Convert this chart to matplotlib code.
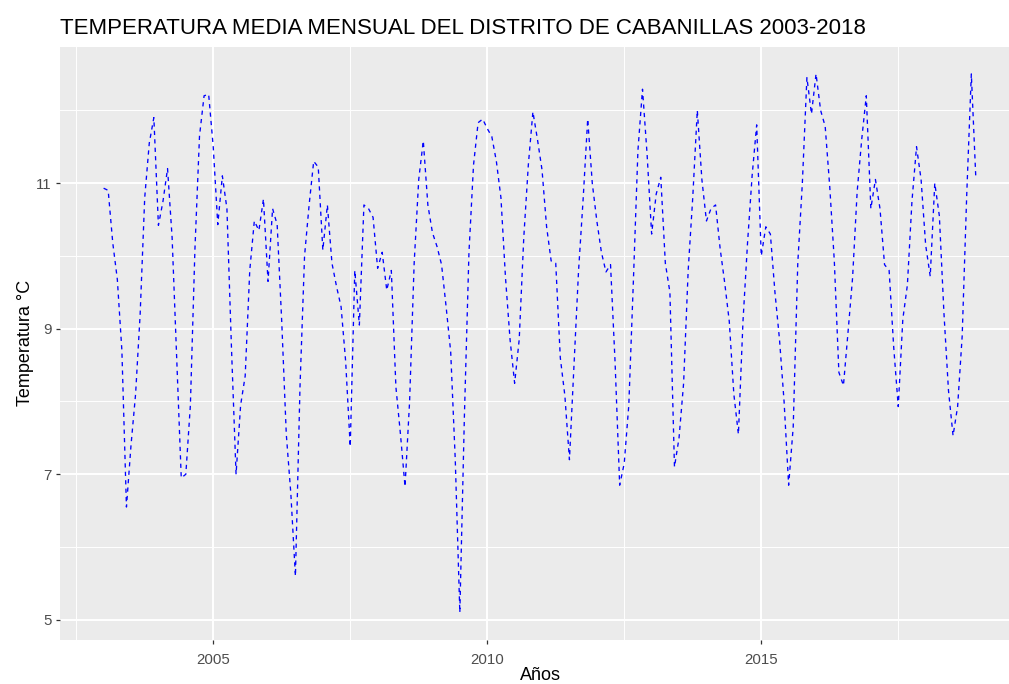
import numpy as np
import matplotlib
matplotlib.use("Agg")
import matplotlib.pyplot as plt
from matplotlib.ticker import MultipleLocator, FixedLocator

# monthly mean temperature, Cabanillas district, Jan 2003 .. Dec 2018
temp_2003 = [10.93, 10.9, 10.18, 9.68, 8.7, 6.55, 7.4, 8.1, 9.2, 10.8, 11.55, 11.9]
temp_2004 = [10.42, 10.75, 11.2, 10.25, 8.6, 6.95, 7.0, 7.95, 10.1, 11.65, 12.2, 12.22]
temp_2005 = [11.5, 10.43, 11.1, 10.65, 8.73, 7.0, 7.95, 8.35, 9.8, 10.48, 10.35, 10.78]
temp_2006 = [9.65, 10.65, 10.43, 9.1, 7.55, 6.73, 5.6, 8.2, 10.0, 10.7, 11.3, 11.22]
temp_2007 = [10.08, 10.7, 9.9, 9.58, 9.3, 8.55, 7.38, 9.8, 9.05, 10.7, 10.65, 10.53]
temp_2008 = [9.83, 10.05, 9.53, 9.8, 8.2, 7.55, 6.83, 8.0, 9.9, 11.05, 11.58, 10.7]
temp_2009 = [10.32, 10.13, 9.88, 9.3, 8.68, 7.2, 5.1, 7.8, 10.05, 11.25, 11.83, 11.88]
temp_2010 = [11.75, 11.64, 11.3, 10.8, 9.7, 8.85, 8.25, 8.85, 10.25, 11.25, 11.98, 11.6]
temp_2011 = [11.18, 10.4, 9.93, 9.9, 8.6, 8.08, 7.2, 8.5, 9.8, 10.78, 11.88, 11.0]
temp_2012 = [10.48, 10.05, 9.78, 9.88, 8.53, 6.85, 7.15, 7.95, 9.65, 11.45, 12.29, 11.4]
temp_2013 = [10.3, 10.85, 11.08, 9.9, 9.5, 7.1, 7.5, 8.25, 9.8, 10.8, 12.0, 11.05]
temp_2014 = [10.48, 10.65, 10.7, 10.1, 9.63, 9.1, 8.1, 7.55, 9.1, 10.18, 11.1, 11.8]
temp_2015 = [10.0, 10.4, 10.3, 9.5, 8.85, 8.0, 6.85, 7.65, 9.9, 11.0, 12.45, 11.95]
temp_2016 = [12.5, 12.0, 11.78, 10.95, 9.93, 8.4, 8.22, 8.95, 9.7, 10.88, 11.6, 12.2]
temp_2017 = [10.65, 11.05, 10.65, 9.88, 9.8, 8.75, 7.93, 9.13, 9.6, 10.75, 11.5, 11.05]
temp_2018 = [10.15, 9.72, 11.0, 10.55, 9.22, 8.15, 7.53, 7.93, 8.9, 10.85, 12.5, 11.05]

temps = (temp_2003 + temp_2004 + temp_2005 + temp_2006 + temp_2007 + temp_2008
         + temp_2009 + temp_2010 + temp_2011 + temp_2012 + temp_2013 + temp_2014
         + temp_2015 + temp_2016 + temp_2017 + temp_2018)
years = 2003 + np.arange(len(temps)) / 12

y_ticks = [5, 7, 9, 11]

plt.rcParams['font.family'] = ['Liberation Sans', 'DejaVu Sans']

fig = plt.figure(figsize=(10.09, 6.84), dpi=100)
# panel runs past the right edge of the picture, like the cropped original
ax = fig.add_axes([60/1009, 44.5/684, 959.5/1009, 592.5/684])
ax.set_facecolor('#EBEBEB')

ax.plot(years, temps, color='blue', linewidth=0.95, linestyle=(0, (3.2, 3.2)))
ax.margins(0.05)

ax.xaxis.set_major_locator(MultipleLocator(5))
ax.xaxis.set_minor_locator(MultipleLocator(2.5))
ax.yaxis.set_major_locator(FixedLocator(y_ticks))
ax.yaxis.set_minor_locator(FixedLocator([t + 1 for t in y_ticks]))
ax.yaxis.set_major_formatter(matplotlib.ticker.FormatStrFormatter('%d'))
ax.grid(which='major', color='white', linewidth=1.4)
ax.grid(which='minor', color='white', linewidth=0.7)
ax.set_axisbelow(True)
for s in ax.spines.values():
    s.set_visible(False)
ax.tick_params(which='major', length=3, width=0.9, color='#333333',
               labelcolor='#4D4D4D', labelsize=10.8)
ax.tick_params(axis='x', which='major', pad=7)
ax.tick_params(axis='y', which='major', pad=3)
ax.tick_params(which='minor', length=0)

ax.set_ylabel('Temperatura °C', fontsize=13, color='black', labelpad=1.5)
fig.text(60/1009, 1 - 34/684, 'TEMPERATURA MEDIA MENSUAL DEL DISTRITO DE CABANILLAS 2003-2018',
         fontsize=16, ha='left', va='baseline', color='black')
# x label centred on the visible panel, as ggplot does
fig.text(540/1009, 1 - 676/684, 'Años', fontsize=13, ha='center', va='center', color='black')

fig.savefig('out.png', dpi=100)
